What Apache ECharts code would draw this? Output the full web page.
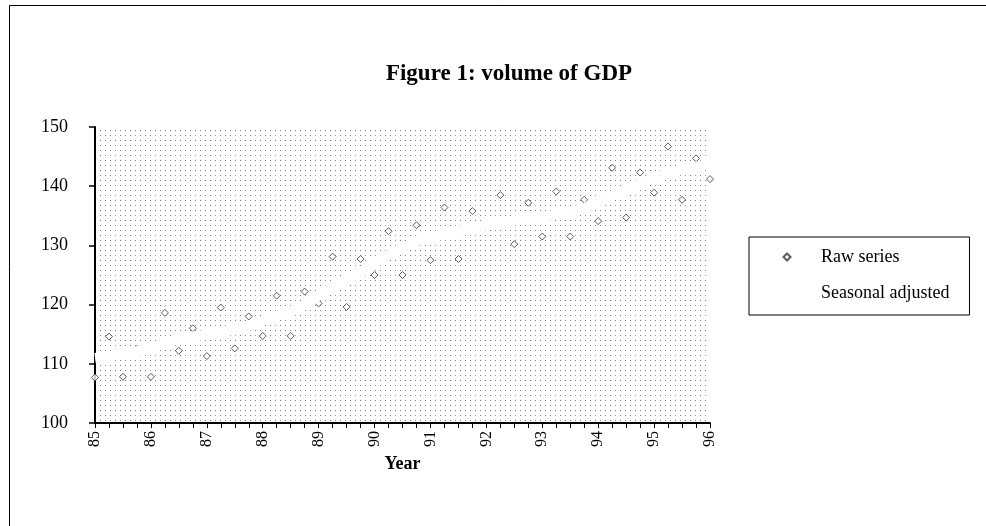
<!DOCTYPE html>
<html>
<head>
<meta charset="utf-8">
<script src="https://cdn.jsdelivr.net/npm/echarts@6/dist/echarts.min.js"></script>
<style>
  html, body { margin: 0; padding: 0; background: #fff; }
  #chart { width: 986px; height: 526px; }
</style>
</head>
<body>
<div id="chart"></div>
<script>
// Year labels on the time axis (two-digit years)
const yearLabels = ['85', '86', '87', '88', '89', '90', '91', '92', '93', '94', '95', '96'];

// Quarterly volume of GDP, 1985 Q1 .. 1996 Q1
const rawSeries = [
  107.7, 114.6, 107.8, 112.5,
  107.8, 118.6, 112.2, 116.0,
  111.3, 119.5, 112.6, 118.0,
  114.7, 121.5, 114.7, 122.2,
  120.2, 128.1, 119.6, 127.7,
  125.0, 132.4, 125.0, 133.4,
  127.5, 136.4, 127.7, 135.8,
  133.2, 138.5, 130.2, 137.2,
  131.5, 139.1, 131.5, 137.7,
  134.1, 143.1, 134.7, 142.3,
  138.9, 146.7, 137.7, 144.7,
  141.2
];

// Seasonally adjusted series, same quarters
const seasonalAdjusted = [
  111.0, 111.3, 111.7, 112.1,
  112.7, 113.5, 114.2, 114.6,
  114.9, 115.3, 115.8, 116.4,
  117.3, 118.1, 118.9, 119.9,
  121.5, 123.0, 124.2, 125.4,
  127.0, 128.4, 129.6, 130.7,
  131.3, 131.9, 132.4, 133.0,
  133.4, 133.8, 134.2, 134.5,
  134.8, 135.2, 135.6, 136.3,
  137.4, 138.4, 139.3, 140.4,
  141.4, 142.2, 142.8, 143.3,
  143.7
];

// One category per quarter; years carry the label on their first quarter
const quarters = [];
yearLabels.forEach(function (y) {
  ['Q1', 'Q2', 'Q3', 'Q4'].forEach(function (q) { quarters.push(y + ' ' + q); });
});
quarters.length = rawSeries.length;

// Halftone-like dotted fill for the plot area
const tile = document.createElement('canvas');
tile.width = 10; tile.height = 10;
const tctx = tile.getContext('2d');
tctx.fillStyle = '#ffffff';
tctx.fillRect(0, 0, 10, 10);
tctx.fillStyle = '#7a7a7a';
tctx.fillRect(0, 0, 1, 1);
tctx.fillRect(5, 0, 1, 1);
tctx.fillRect(0, 5, 1, 1);
tctx.fillStyle = '#999999';
tctx.fillRect(5, 5, 1, 1);

const serif = '"Liberation Serif", "DejaVu Serif", serif';

const chart = echarts.init(document.getElementById('chart'), null, { renderer: 'canvas' });

chart.setOption({
  animation: false,
  backgroundColor: '#ffffff',
  title: {
    text: 'Figure 1: volume of GDP',
    left: 504,
    top: 58,
    textAlign: 'center',
    textStyle: { fontFamily: serif, fontWeight: 'bold', fontSize: 23, color: '#000' }
  },
  graphic: [{
    type: 'rect',
    shape: { x: 9.5, y: 5.5, width: 1000, height: 600 },
    style: { fill: 'none', stroke: '#000', lineWidth: 1 },
    silent: true,
    z: -1
  }],
  legend: {
    left: 749,
    top: 237,
    orient: 'vertical',
    padding: [11, 20, 13, 8],
    itemGap: 18,
    itemWidth: 58,
    itemHeight: 7,
    backgroundColor: '#ffffff',
    borderColor: '#000',
    borderWidth: 1,
    borderRadius: 0,
    textStyle: { fontFamily: serif, fontSize: 18, color: '#000', lineHeight: 18 },
    data: [
      { name: 'Raw series', icon: 'path://M5,0L10,5L5,10L0,5Z' },
      { name: 'Seasonal adjusted' }
    ]
  },
  grid: {
    left: 95,
    right: 276,
    top: 127,
    bottom: 103,
    show: true,
    borderWidth: 0,
    backgroundColor: { image: tile, repeat: 'repeat' }
  },
  xAxis: {
    type: 'category',
    data: quarters,
    boundaryGap: false,
    name: 'Year',
    nameLocation: 'middle',
    nameGap: 32,
    nameTextStyle: { fontFamily: serif, fontWeight: 'bold', fontSize: 18, color: '#000' },
    axisLine: { lineStyle: { color: '#000', width: 2 } },
    axisTick: { show: true, interval: 0, length: 5, lineStyle: { color: '#000', width: 1 } },
    axisLabel: {
      interval: 3,
      rotate: 90,
      margin: 8,
      fontFamily: serif,
      fontSize: 16,
      color: '#000',
      formatter: function (v) { return v.split(' ')[0]; }
    },
    splitLine: { show: false }
  },
  yAxis: {
    type: 'value',
    min: 100,
    max: 150,
    interval: 10,
    axisLine: { show: true, lineStyle: { color: '#000', width: 2 } },
    axisTick: { show: true, length: 6, lineStyle: { color: '#000', width: 1.5 } },
    axisLabel: { fontFamily: serif, fontSize: 18, color: '#000', margin: 27 },
    splitLine: { show: false }
  },
  series: [
    {
      name: 'Raw series',
      type: 'scatter',
      data: rawSeries,
      symbol: 'diamond',
      symbolSize: 7,
      itemStyle: { color: '#ffffff', borderColor: '#333', borderWidth: 1 }
    },
    {
      name: 'Seasonal adjusted',
      type: 'line',
      data: seasonalAdjusted,
      showSymbol: false,
      symbol: 'none',
      smooth: false,
      lineStyle: { color: '#ffffff', width: 10 },
      itemStyle: { color: '#ffffff' }
    }
  ]
});
</script>
</body>
</html>
